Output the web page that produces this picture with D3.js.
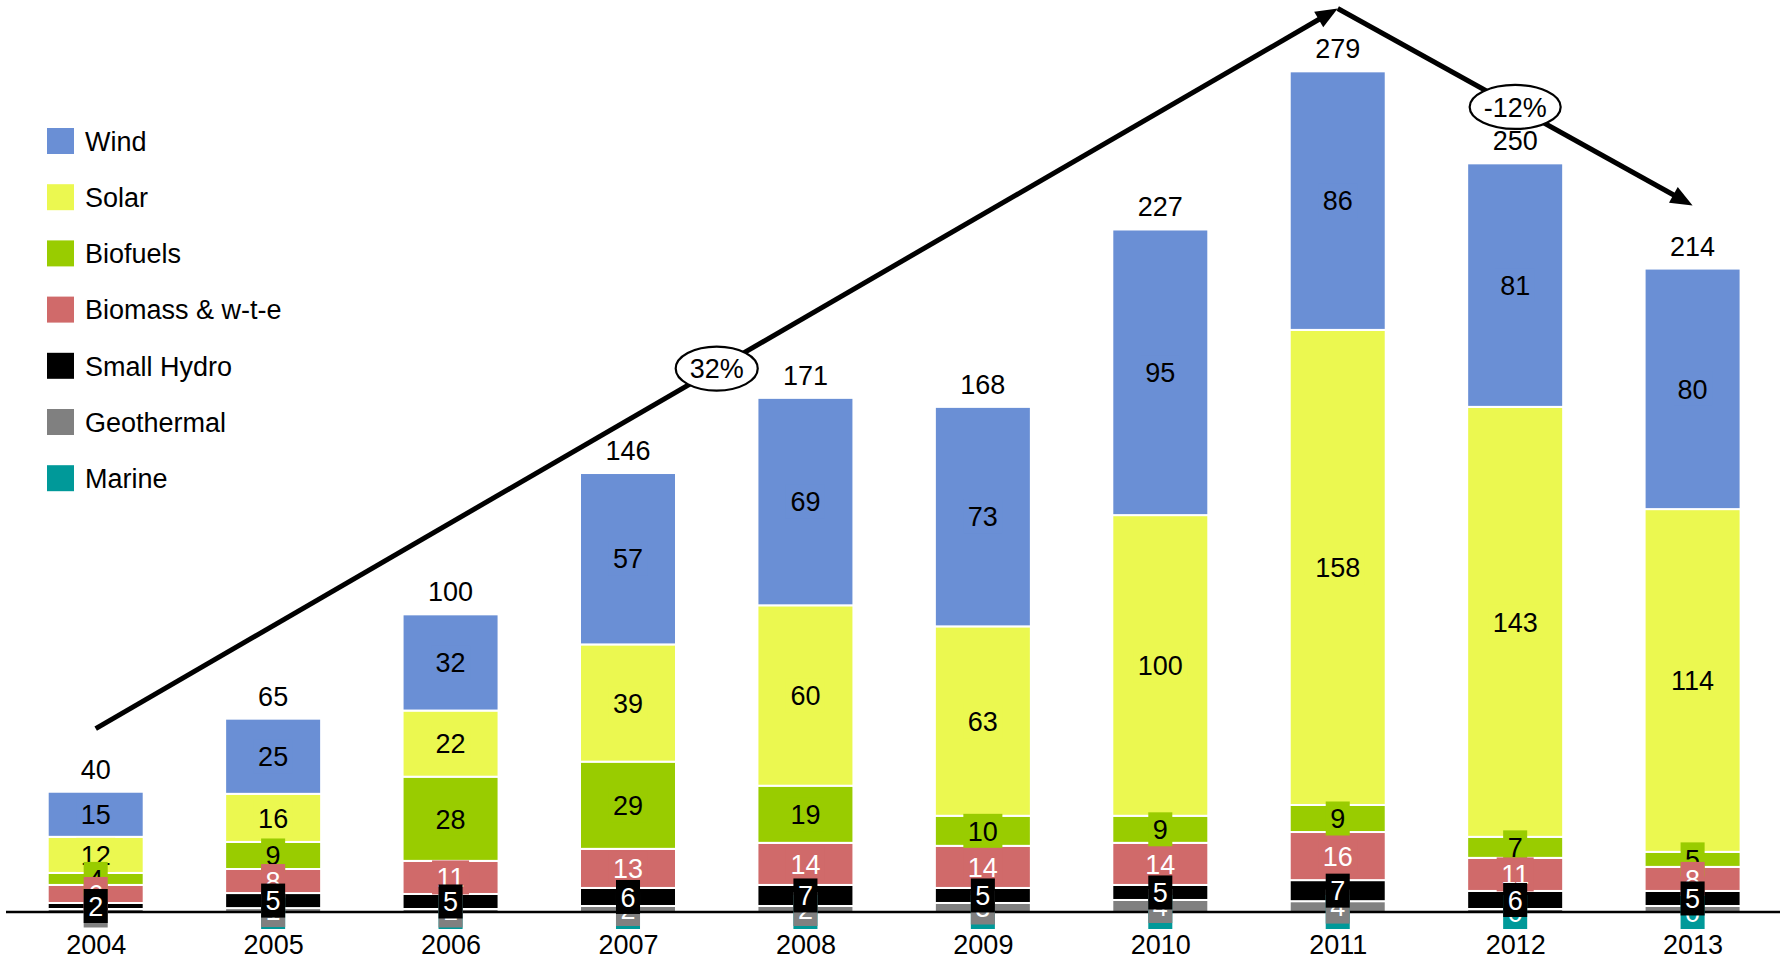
<!DOCTYPE html>
<html>
<head>
<meta charset="utf-8">
<script src="https://cdn.jsdelivr.net/npm/d3@7"></script>
<style>
  html, body { margin: 0; padding: 0; background: #fff; }
  svg { display: block; }
  text { font-family: "Liberation Sans", Arial, sans-serif; }
</style>
</head>
<body>
<svg id="chart" width="1786" height="957"></svg>
<script>
// ---------------- data ----------------
const years = ["2004","2005","2006","2007","2008","2009","2010","2011","2012","2013"];
const wind       = [15, 25, 32, 57, 69, 73, 95, 86, 81, 80];
const solar      = [12, 16, 22, 39, 60, 63, 100, 158, 143, 114];
const biofuels   = [4, 9, 28, 29, 19, 10, 9, 9, 7, 5];
const biomass    = [6, 8, 11, 13, 14, 14, 14, 16, 11, 8];
const smallHydro = [2, 5, 5, 6, 7, 5, 5, 7, 6, 5];
const geothermal = [1, 1.3, 1, 2, 2, 3, 4, 3.6, 1, 2];
const marine     = [null, 0, 0, 0, 0, 0, 0, 0, 0, 0];
const totals     = [40, 65, 100, 146, 171, 168, 227, 279, 250, 214];

// stacking order bottom -> top
const seriesNames = ["Marine", "Geothermal", "Small Hydro", "Biomass & w-t-e", "Biofuels", "Solar", "Wind"];
const seriesValues = [marine, geothermal, smallHydro, biomass, biofuels, solar, wind];
const seriesColors = ["#009999", "#808080", "#000000", "#D06A6A", "#99CC00", "#EBF850", "#6A8FD5"];
const labelColors  = ["#ffffff", "#ffffff", "#ffffff", "#ffffff", "#000000", "#000000", "#000000"];
const legendOrder  = ["Wind", "Solar", "Biofuels", "Biomass & w-t-e", "Small Hydro", "Geothermal", "Marine"];
// order in which the value labels are painted (later ones cover earlier ones)
const labelPaintOrder = ["Marine", "Geothermal", "Wind", "Solar", "Biofuels", "Biomass & w-t-e", "Small Hydro"];
const hiddenLabels = [["Geothermal", "2012"], ["Geothermal", "2013"]];

// growth annotation (trend arrows)
const trendYears  = ["2004", "2011", "2013"];
const trendValues = [61, 300.5, 235];
const trendLabels = ["32%", "-12%"];

(function () {
const FONT = 27;
const svg = d3.select("#chart");

const x = d3.scalePoint().domain(years).range([95.7, 1692.6]);
const y = d3.scaleLinear().domain([0, 300]).range([912, 10]);
const barW = 96;

const rows = years.map((yr, i) => {
  const r = { year: yr };
  seriesNames.forEach((s, k) => { r[s] = seriesValues[k][i] == null ? 0 : seriesValues[k][i]; });
  return r;
});
const stacked = d3.stack().keys(seriesNames)(rows);

// bars
const gBars = svg.append("g");
stacked.forEach((layer, k) => {
  gBars.append("g")
    .attr("fill", seriesColors[k])
    .selectAll("rect")
    .data(layer)
    .join("rect")
    .attr("x", d => x(d.data.year) - barW / 2)
    .attr("width", barW)
    .attr("y", d => y(d[1]))
    .attr("height", d => Math.max(0, y(d[0]) - y(d[1])))
    .attr("stroke", "#ffffff")
    .attr("stroke-width", 2);
});

// axis baseline
svg.append("line")
  .attr("x1", 6).attr("x2", 1780)
  .attr("y1", y(0)).attr("y2", y(0))
  .attr("stroke", "#000").attr("stroke-width", 2.5);

// x axis labels
const xAxis = d3.axisBottom(x).tickSize(0).tickPadding(0);
const gx = svg.append("g").attr("transform", `translate(0, ${y(0)})`).call(xAxis);
gx.select(".domain").remove();
gx.selectAll("text")
  .attr("font-size", FONT)
  .attr("font-family", '"Liberation Sans", Arial, sans-serif')
  .attr("fill", "#000")
  .attr("dy", null)
  .attr("y", 42);

// value labels with coloured boxes
const gLabels = svg.append("g");
labelPaintOrder.forEach(name => {
  const k = seriesNames.indexOf(name);
  const layer = stacked[k];
  layer.forEach((d, i) => {
    const v = seriesValues[k][i];
    if (v == null) return;
    if (hiddenLabels.some(h => h[0] === name && h[1] === years[i])) return;
    const cx = x(years[i]);
    const cy = y((d[0] + d[1]) / 2);
    const g = gLabels.append("g").attr("transform", `translate(${cx},${cy})`);
    const rect = g.append("rect").attr("fill", seriesColors[k]);
    const t = g.append("text")
      .attr("text-anchor", "middle")
      .attr("dy", "0.36em")
      .attr("font-size", FONT)
      .attr("fill", labelColors[k])
      .text(d3.format(".0f")(v));
    const bb = t.node().getBBox();
    const bw = bb.width + 9, bh = 34;
    rect.attr("x", -bw / 2).attr("y", -bh / 2).attr("width", bw).attr("height", bh);
  });
});

// totals above bars
const topLayer = stacked[stacked.length - 1];
svg.append("g").selectAll("text")
  .data(topLayer)
  .join("text")
  .attr("x", d => x(d.data.year))
  .attr("y", d => y(d[1]) - 13)
  .attr("text-anchor", "middle")
  .attr("font-size", FONT)
  .attr("fill", "#000")
  .text((d, i) => totals[i]);

// legend
const gLeg = svg.append("g");
legendOrder.forEach((name, j) => {
  const k = seriesNames.indexOf(name);
  const cy = 141 + j * 56.2;
  gLeg.append("rect")
    .attr("x", 47).attr("y", cy - 13)
    .attr("width", 27).attr("height", 26)
    .attr("fill", seriesColors[k]);
  gLeg.append("text")
    .attr("x", 85).attr("y", cy)
    .attr("dy", "0.36em")
    .attr("font-size", FONT)
    .attr("fill", "#000")
    .text(name);
});

// trend arrows
const pts = trendYears.map((yr, i) => [x(yr), y(trendValues[i])]);
const gTrend = svg.append("g");
function arrow(p0, p1) {
  const dx = p1[0] - p0[0], dy = p1[1] - p0[1];
  const L = Math.hypot(dx, dy);
  const ux = dx / L, uy = dy / L;
  const headL = 22, headW = 9;
  const bx = p1[0] - ux * headL, by = p1[1] - uy * headL;
  gTrend.append("line")
    .attr("x1", p0[0]).attr("y1", p0[1])
    .attr("x2", p1[0] - ux * (headL - 4)).attr("y2", p1[1] - uy * (headL - 4))
    .attr("stroke", "#000").attr("stroke-width", 5);
  gTrend.append("path")
    .attr("d", `M${p1[0]},${p1[1]} L${bx - uy * headW},${by + ux * headW} L${bx + uy * headW},${by - ux * headW} Z`)
    .attr("fill", "#000");
}
arrow(pts[0], pts[1]);
arrow(pts[1], pts[2]);

trendLabels.forEach((lab, i) => {
  const p0 = pts[i], p1 = pts[i + 1];
  const mx = (p0[0] + p1[0]) / 2;
  const my = (p0[1] + p1[1]) / 2;
  const g = gTrend.append("g").attr("transform", `translate(${mx},${my})`);
  const el = g.append("ellipse").attr("fill", "#fff").attr("stroke", "#000").attr("stroke-width", 2.2);
  const t = g.append("text")
    .attr("text-anchor", "middle").attr("dy", "0.36em")
    .attr("font-size", FONT).attr("fill", "#000")
    .text(lab);
  const bb = t.node().getBBox();
  el.attr("rx", bb.width / 2 + 14).attr("ry", 22);
});
})();
</script>
</body>
</html>
